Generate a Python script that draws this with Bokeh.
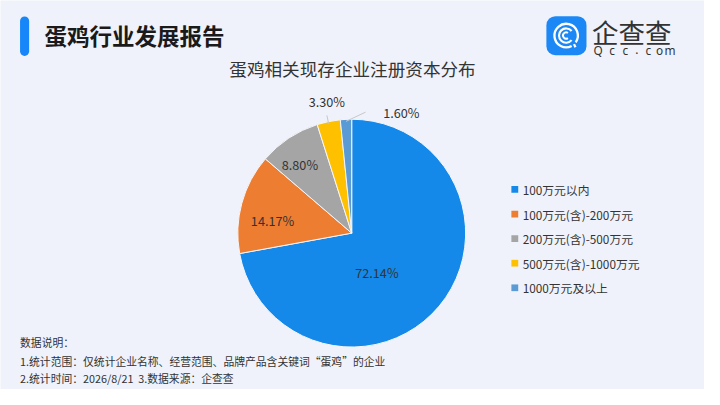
import math
from bokeh.plotting import figure
from bokeh.models import Range1d, BoxAnnotation, ColumnDataSource
from bokeh.core.properties import value
from bokeh.embed import file_html
from bokeh.resources import INLINE

# ---------------- data ----------------
categories = ["100万元以内", "100万元(含)-200万元", "200万元(含)-500万元",
              "500万元(含)-1000万元", "1000万元及以上"]
shares = [72.14, 14.17, 8.80, 3.30, 1.60]
pct_labels = ["72.14%", "14.17%", "8.80%", "3.30%", "1.60%"]
colors = ["#1589EA", "#ED7D31", "#A5A5A5", "#FFC000", "#5B9BD5"]

title = "蛋鸡行业发展报告"
subtitle = "蛋鸡相关现存企业注册资本分布"
notes = ["数据说明：",
         "1.统计范围：仅统计企业名称、经营范围、品牌产品含关键词“蛋鸡”的企业",
         "2.统计时间：2026/8/21\u00a0\u00a03.数据来源：企查查"]

# canvas fits inside the 8px page margin; drawing space keeps the 720x405 layout
W, H = 704, 389
RW, RH = 720, 405
FONT = value("Noto Sans CJK SC")


def X(xr):
    return xr


def Y(yr):
    return RH - yr


p = figure(width=W, height=H, output_backend="svg", toolbar_location=None,
           x_range=Range1d(0, RW), y_range=Range1d(0, RH), min_border=0,
           x_axis_location=None, y_axis_location=None)
p.grid.visible = False
p.outline_line_color = None
p.background_fill_color = "#eff2fa"
p.border_fill_color = "#eff2fa"

# ---------------- header ----------------
p.add_layout(BoxAnnotation(left=X(20), right=X(29.3), top=Y(16.7), bottom=Y(57.7),
                           fill_color="#1686f8", fill_alpha=1, line_color=None,
                           border_radius=5, level="underlay"))
p.text(x=[X(45)], y=[Y(36)], text=[title], text_font=FONT, text_font_size="22.5px",
       text_font_style="bold", text_color="#1a1a1a", text_baseline="middle", text_align="left")

# logo
p.add_layout(BoxAnnotation(left=X(558.3), right=X(599.3), top=Y(16.3), bottom=Y(57),
                           fill_color="#1c88f6", fill_alpha=1, line_color=None,
                           border_radius=9, level="underlay"))
lcx, lcy = X(578.5), Y(36.5)
p.arc(x=[lcx], y=[lcy], radius=12, start_angle=math.radians(-35), end_angle=math.radians(-62),
      line_color="white", line_width=2.3)
p.segment(x0=[lcx + 12 * math.cos(math.radians(-48))], y0=[lcy + 12 * math.sin(math.radians(-48))],
          x1=[lcx + 15.5 * math.cos(math.radians(-52))], y1=[lcy + 15.5 * math.sin(math.radians(-52))],
          line_color="white", line_width=2.3)
p.arc(x=[lcx], y=[lcy], radius=7.3, start_angle=math.radians(40), end_angle=math.radians(-40),
      line_color="white", line_width=2.1)
p.arc(x=[lcx], y=[lcy], radius=3.2, start_angle=math.radians(55), end_angle=math.radians(-55),
      line_color="white", line_width=1.9)
p.text(x=[X(605)], y=[Y(32)], text=["企查查"], text_font=FONT, text_font_size="26.5px",
       text_color="#333333", text_baseline="middle", text_align="left")
qcc_chars = list("Qcc.com")
qcc_x = [611.3, 625.5, 639, 650.7, 662.5, 674, 684.7]
p.text(x=[X(v) for v in qcc_x], y=[Y(51.5)] * 7, text=qcc_chars, text_font=value("Noto Sans"),
       text_font_size="11.8px", text_color="#333333", text_baseline="middle", text_align="center")

# subtitle
p.text(x=[X(360)], y=[Y(71)], text=[subtitle], text_font=FONT, text_font_size="17.6px",
       text_color="#333333", text_baseline="middle", text_align="center")

# ---------------- pie ----------------
cx, cy, R = X(359.2), Y(242.2), 116.5
total = sum(shares)
starts, ends, mids = [], [], []
cum = 0.0
for s in shares:
    a0 = cum / total
    cum += s
    a1 = cum / total
    starts.append(math.pi / 2 - 2 * math.pi * a1)
    ends.append(math.pi / 2 - 2 * math.pi * a0)
    mids.append(2 * math.pi * (a0 + a1) / 2)  # clockwise from top

src = ColumnDataSource(dict(start=starts, end=ends, color=colors, cat=categories))
p.wedge(x=cx, y=cy, radius=R, start_angle="start", end_angle="end", fill_color="color",
        line_color="#f4f6fb", line_width=1, source=src)


def polar(frac, th):
    return cx + R * frac * math.sin(th), cy + R * frac * math.cos(th)


# inside labels (radial fraction + small nudge)
in_frac = [0.5, 0.72, 0.77]
in_nudge = [(-19, -4), (0, -9), (-3.5, -3)]
for i in range(3):
    lx, ly = polar(in_frac[i], mids[i])
    p.text(x=[lx + in_nudge[i][0]], y=[ly + in_nudge[i][1]], text=[pct_labels[i]], text_font=FONT,
           text_font_size="12.7px", text_color="#333333", text_baseline="middle", text_align="center")

# outside labels with leader lines
# 3.30%
x0, y0 = polar(1.0, mids[3])
x1, y1 = polar(1.075, mids[3])
p.segment(x0=[x0], y0=[y0], x1=[x1], y1=[y1], line_color="#c8c8c8", line_width=1)
p.text(x=[x1], y=[y1 + 14], text=[pct_labels[3]], text_font=FONT, text_font_size="12.7px",
       text_color="#333333", text_baseline="middle", text_align="center")
# 1.60%
x0, y0 = polar(1.0, mids[4])
x1, y1 = x0 + 20, y0 + 9.6
p.segment(x0=[x0], y0=[y0], x1=[x1], y1=[y1], line_color="#c8c8c8", line_width=1)
p.text(x=[x1 + 18], y=[y1], text=[pct_labels[4]], text_font=FONT, text_font_size="12.7px",
       text_color="#333333", text_baseline="middle", text_align="left")

# ---------------- legend ----------------
leg_y = [Y(196.7 + 25.6 * i) for i in range(len(categories))]
p.rect(x=[X(526)] * len(categories), y=leg_y, width=7, height=7, fill_color=colors, line_color=None)
p.text(x=[X(534)] * len(categories), y=leg_y, text=categories, text_font=FONT,
       text_font_size="11.8px", text_color="#333333", text_baseline="middle", text_align="left")

# ---------------- notes ----------------
note_y = [Y(356), Y(375.5), Y(393.5)]
p.text(x=[X(20)] * 3, y=note_y, text=notes, text_font=FONT, text_font_size="10.8px",
       text_color="#333333", text_baseline="middle", text_align="left")

open("out.html", "w").write(file_html(p, INLINE))
